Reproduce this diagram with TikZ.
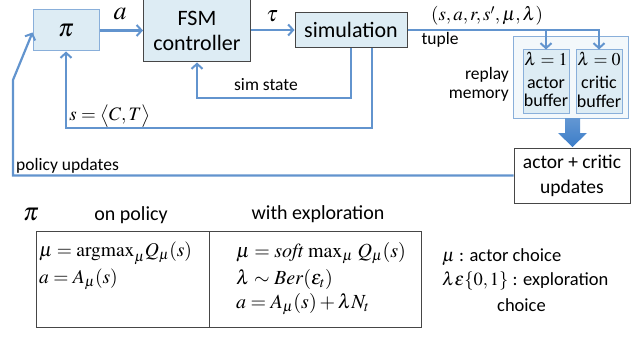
\documentclass[tikz,border=0pt]{standalone}
\usepackage{amsmath}
\usepackage{mathptmx}
\usepackage[no-math]{fontspec}
\setmainfont{Carlito}
\usetikzlibrary{arrows.meta}
\definecolor{lb}{RGB}{221,236,244}
\definecolor{ln}{RGB}{98,148,206}
\definecolor{dk}{RGB}{70,70,70}
\definecolor{ab}{RGB}{60,125,200}
\begin{document}
\begin{tikzpicture}[x=1pt,y=-1pt,
  conn/.style={draw=ln,line width=2.2pt,-{Straight Barb[length=5pt,width=11pt,line width=2pt]}},
  bluebox/.style={draw=ln!75,fill=lb,line width=1pt,inner sep=0pt},
  darkbox/.style={draw=dk,fill=lb,line width=1pt,inner sep=0pt,align=center},
  lbl/.style={inner sep=0pt,font=\fontsize{17.5}{19}\selectfont},
  tbl/.style={inner sep=0pt,anchor=west,font=\fontsize{20}{22}\selectfont},
  leg/.style={inner sep=0pt,anchor=west,font=\fontsize{18.5}{20}\selectfont}]
\useasboundingbox (0,0) rectangle (640,337);

% boxes
\node[bluebox,minimum width=66pt,minimum height=41pt,font=\fontsize{25}{25}\selectfont] (pi) at (66,30.5) {$\pi$};
\node[darkbox,minimum width=107pt,minimum height=62pt,font=\fontsize{22}{25}\selectfont] (fsm) at (197,31) {FSM\\controller};
\node[darkbox,minimum width=112pt,minimum height=35pt,font=\fontsize{22}{25}\selectfont] (sim) at (351,30) {simulation};
\node[draw=ln!75,fill=lb!35,line width=1pt,minimum width=115pt,minimum height=81pt,inner sep=0pt] (rep) at (570.5,77.5) {};
\node[bluebox,minimum width=46pt,minimum height=63pt] (act) at (546,81.5) {};
\node[bluebox,minimum width=46pt,minimum height=63pt] (crit) at (599,81.5) {};
\node[inner sep=0pt,font=\fontsize{18}{20}\selectfont] (l1) at (546,59) {$\lambda=1$};
\node[inner sep=0pt,font=\fontsize{18}{20}\selectfont] (l0) at (599,59) {$\lambda=0$};
\node[inner sep=0pt,align=center,font=\fontsize{18}{18.5}\selectfont] (actt) at (546,92) {actor\\buffer};
\node[inner sep=0pt,align=center,font=\fontsize{18}{18.5}\selectfont] (critt) at (599,92) {critic\\buffer};
\node[draw=dk,fill=white,line width=1pt,minimum width=116pt,minimum height=55pt,inner sep=0pt,align=center,font=\fontsize{19.5}{25}\selectfont] (ac) at (572,175.5) {actor + critic\\updates};

% connectors
\coordinate (ss) at (351,98);
\coordinate (sl) at (372,128);
\coordinate (pu) at (13,80);
\draw[conn] (pi.east) -- (fsm.west |- pi.east);
\draw[conn] (fsm.east |- sim.west) -- (sim.west);
\draw[conn] (sim.south -| ss) -- (ss) -| (fsm.south);
\draw[conn] (sim.south -| sl) -- (sl) -| (pi.south);
\draw[conn] (ac.west) -| (pu) -- ([yshift=-2pt]pi.west);
\draw[conn] (sim.east) -| (crit.north);
\draw[conn] (act.north |- sim.east) -- (act.north);

% block arrow
\shade[top color=ab!80,bottom color=ab] (565,118) -- (580,118) -- (580,133) -- (587,133) -- (572.5,147) -- (558,133) -- (565,133) -- cycle;

% labels
\node[inner sep=0pt,font=\fontsize{26}{26}\selectfont] (la) at (120,14) {$a$};
\node[inner sep=0pt,font=\fontsize{22}{22}\selectfont] (lt) at (272,16) {$\tau$};
\node[lbl] (lss) at (266,85) {sim state};
\node[inner sep=0pt,font=\fontsize{19}{22}\selectfont] (ls) at (110,116) {$s=\big\langle C,T\big\rangle$};
\node[lbl,anchor=west] (lpu) at (16,166) {policy updates};
\node[inner sep=0pt,font=\fontsize{19}{22}\selectfont] (ltup) at (487,16) {$(s,a,r,s',\mu,\lambda)$};
\node[lbl] (ltp) at (440,40) {tuple};
\node[lbl,anchor=east,align=right] (lrm) at (509,84) {replay\\memory};

% bottom table
\node[inner sep=0pt,font=\fontsize{25}{25}\selectfont] (bpi) at (31,215) {$\boldsymbol{\pi}$};
\node[inner sep=0pt,font=\fontsize{20}{22}\selectfont] (hon) at (131,215) {on policy};
\node[inner sep=0pt,font=\fontsize{20}{22}\selectfont] (hwe) at (318,214) {with exploration};
\draw[dk,line width=1pt] (36,231) rectangle (421,327);
\draw[dk,line width=1pt] (209,231) -- (209,327);
\node[tbl,font=\fontsize{19.5}{22}\selectfont] (r1) at (39,253) {$\mu=\mathrm{argmax}_\mu Q_\mu(s)$};
\node[tbl,font=\fontsize{19.5}{22}\selectfont] (r2) at (39,279) {$a=A_\mu(s)$};
\node[tbl] (r3) at (236,253) {$\mu=\mathit{soft}\,\max_\mu\, Q_\mu(s)$};
\node[tbl] (r4) at (236,279) {$\lambda\sim \mathit{Ber}(\varepsilon_t)$};
\node[tbl] (r5) at (236,304) {$a=A_\mu(s)+\lambda N_t$};
\node[leg] (g1) at (442,257) {$\mu$ : actor choice};
\node[leg] (g2) at (442,281) {$\lambda\epsilon\{0,1\}$ : exploration};
\node[leg] (g3) at (497,305) {choice};
\end{tikzpicture}
\end{document}
